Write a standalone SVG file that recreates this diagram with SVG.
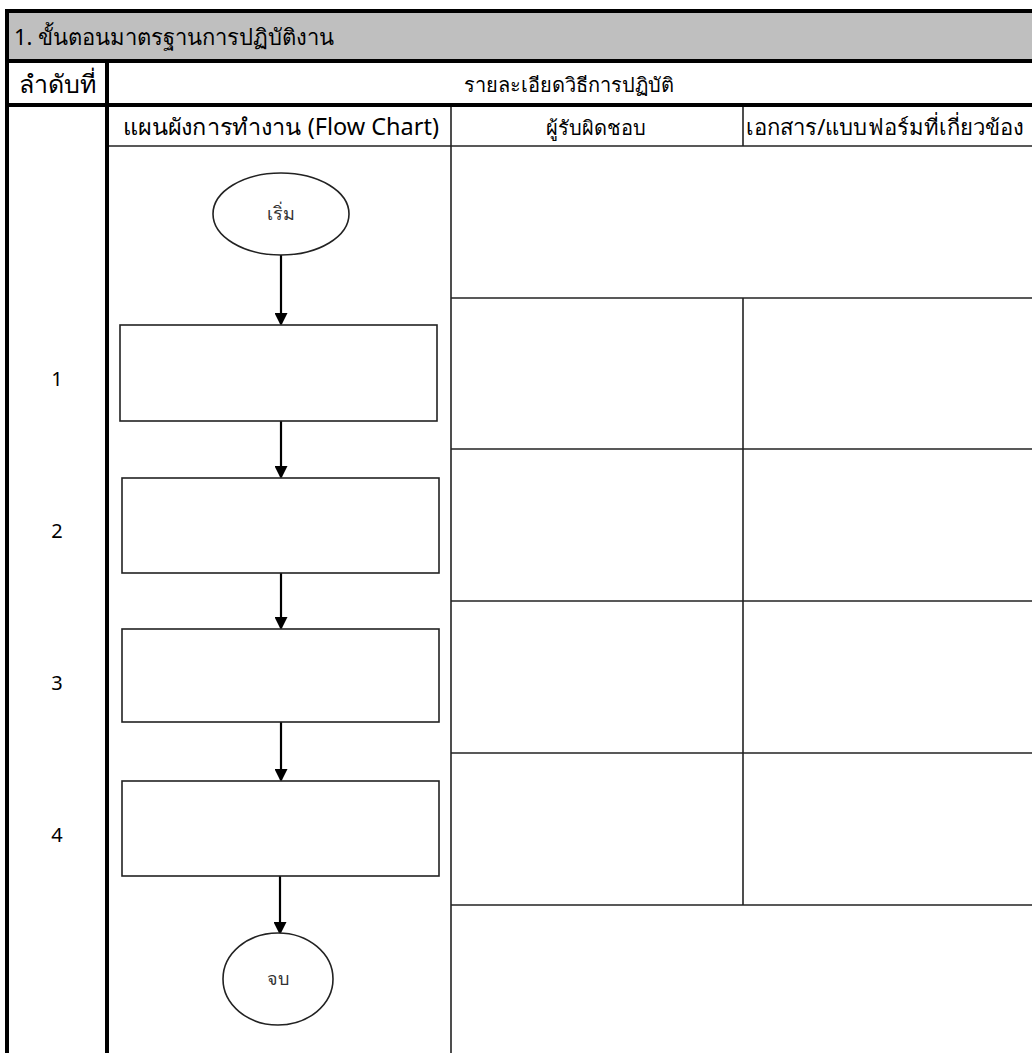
<svg xmlns="http://www.w3.org/2000/svg" width="1032" height="1053" viewBox="0 0 1032 1053">
<style>
.t{font-family:"Noto Sans","DejaVu Sans",sans-serif;fill:#000;}
.h{font-size:22px;}
.c{font-size:20px;text-anchor:middle;}
.n{font-size:20px;text-anchor:middle;}
.s{font-size:18px;text-anchor:middle;fill:#333;}
.thick{stroke:#000;stroke-width:4;fill:none;}
.thin{stroke:#222;stroke-width:1.6;fill:none;}
.shape{stroke:#222;stroke-width:1.6;fill:#fff;}
.conn{stroke:#000;stroke-width:2.2;fill:none;}
</style>
<defs>
<marker id="ah" markerWidth="13" markerHeight="13" refX="11" refY="6.5" orient="auto" markerUnits="userSpaceOnUse" viewBox="0 0 13 13">
<path d="M0,0 L13,6.5 L0,13 Z" fill="#000"/>
</marker>
</defs>
<rect x="0" y="0" width="1032" height="1053" fill="#fff"/>
<g id="table">
<rect x="7" y="12" width="1025" height="49" fill="#bfbfbf"/>
<line class="thick" x1="5" y1="11" x2="1032" y2="11"/>
<line class="thick" x1="7" y1="9" x2="7" y2="1053"/>
<line class="thick" x1="5" y1="61" x2="1032" y2="61"/>
<line class="thick" x1="5" y1="105" x2="1032" y2="105"/>
<line class="thick" x1="107" y1="61" x2="107" y2="1053"/>
<line class="thin" x1="109" y1="146" x2="1032" y2="146"/>
<line class="thin" x1="451" y1="107" x2="451" y2="1053"/>
<line class="thin" x1="743" y1="107" x2="743" y2="146"/>
<line class="thin" x1="743" y1="298" x2="743" y2="905"/>
<line class="thin" x1="451" y1="298" x2="1032" y2="298"/>
<line class="thin" x1="451" y1="449" x2="1032" y2="449"/>
<line class="thin" x1="451" y1="601" x2="1032" y2="601"/>
<line class="thin" x1="451" y1="753" x2="1032" y2="753"/>
<line class="thin" x1="451" y1="905" x2="1032" y2="905"/>
<text class="t h" x="14" y="45">1. ขั้นตอนมาตรฐานการปฏิบัติงาน</text>
<text class="t c" x="57" y="93" style="font-size:25px">ลำดับที่</text>
<text class="t c" x="569" y="92">รายละเอียดวิธีการปฏิบัติ</text>
<text class="t c" x="281" y="135" style="font-size:23px" textLength="316" lengthAdjust="spacingAndGlyphs">แผนผังการทำงาน (Flow Chart)</text>
<text class="t c" x="596" y="135">ผู้รับผิดชอบ</text>
<text class="t c" x="885" y="135" style="font-size:22px" textLength="278" lengthAdjust="spacingAndGlyphs">เอกสาร/แบบฟอร์มที่เกี่ยวข้อง</text>
<text class="t n" x="57" y="386">1</text>
<text class="t n" x="57" y="538">2</text>
<text class="t n" x="57" y="690">3</text>
<text class="t n" x="57" y="842">4</text>
</g>
<g id="connectors">
<line class="conn" x1="281" y1="255" x2="281" y2="324" marker-end="url(#ah)"/>
<line class="conn" x1="281" y1="421" x2="281" y2="477" marker-end="url(#ah)"/>
<line class="conn" x1="281" y1="573" x2="281" y2="628" marker-end="url(#ah)"/>
<line class="conn" x1="281" y1="722" x2="281" y2="780" marker-end="url(#ah)"/>
<line class="conn" x1="280" y1="876" x2="280" y2="933" marker-end="url(#ah)"/>
</g>
<g id="start">
<ellipse class="shape" cx="281" cy="214" rx="68" ry="41"/>
<text class="t s" x="281" y="220">เริ่ม</text>
</g>
<g id="step1"><rect class="shape" x="120" y="325" width="317" height="96"/></g>
<g id="step2"><rect class="shape" x="122" y="478" width="317" height="95"/></g>
<g id="step3"><rect class="shape" x="122" y="629" width="317" height="93"/></g>
<g id="step4"><rect class="shape" x="122" y="781" width="317" height="95"/></g>
<g id="end">
<ellipse class="shape" cx="278" cy="979" rx="55" ry="46"/>
<text class="t s" x="278" y="985">จบ</text>
</g>
</svg>
